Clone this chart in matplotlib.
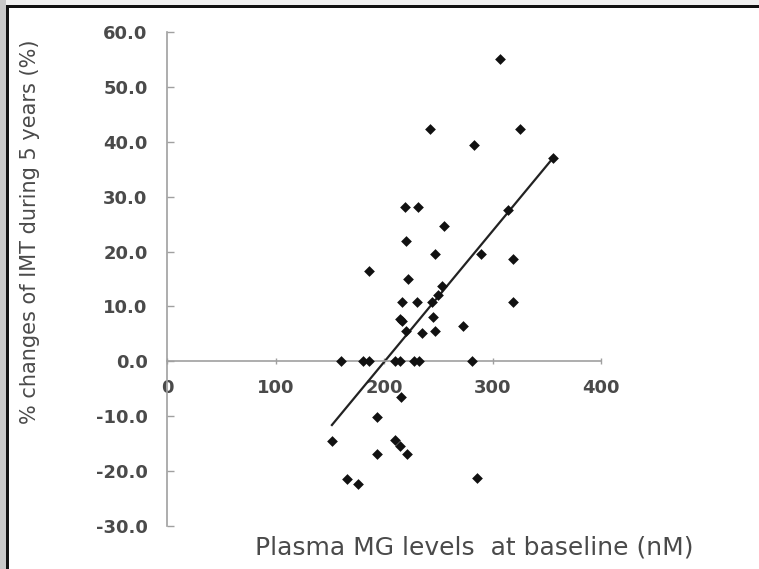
import matplotlib
matplotlib.use("Agg")
import matplotlib.pyplot as plt
from matplotlib.patches import Rectangle

# baseline plasma MG (nM) vs % change of IMT over 5 years
mg_nm = [307, 325, 283, 356, 242, 314, 289, 319, 319, 273, 281, 286,
         219, 231, 255, 220, 247, 186, 222, 253, 217, 230, 244, 250,
         215, 217, 245, 220, 235, 247,
         160, 181, 186, 210, 215, 228, 232,
         194, 152, 210, 215, 221, 194, 166, 176, 216]
imt_change = [55.1, 42.4, 39.5, 37.1, 42.4, 27.5, 19.6, 18.7, 10.9, 6.4, 0.0, -21.3,
              28.2, 28.2, 24.7, 22.0, 19.5, 16.5, 15.0, 13.7, 10.9, 10.9, 10.9, 12.0,
              7.8, 7.3, 8.0, 5.5, 5.1, 5.5,
              0.0, 0.0, 0.0, 0.0, 0.0, 0.0, 0.0,
              -10.2, -14.5, -14.4, -15.5, -16.9, -16.9, -21.4, -22.4, -6.5]

# regression line end points
fit_x = [152, 356]
fit_y = [-11.6, 37.1]

x_ticks = [0, 100, 200, 300, 400]
y_ticks = [-30, -20, -10, 0, 10, 20, 30, 40, 50, 60]

AXC = "#a0a0a0"
TXT = "#4a4a4a"

fig = plt.figure(figsize=(7.59, 5.69), dpi=100)
fig.patch.set_facecolor("white")

# frame: grey strips + black edge on top and left
fig.patches.append(Rectangle((0, 1 - 5 / 569), 1, 5 / 569, transform=fig.transFigure,
                             fc="#f0f0f0", ec="none", zorder=0))
fig.patches.append(Rectangle((0, 0), 6 / 759, 1, transform=fig.transFigure,
                             fc="#c8c8c8", ec="none", zorder=0))
fig.patches.append(Rectangle((6 / 759, 1 - 7.5 / 569), 1, 2.5 / 569, transform=fig.transFigure,
                             fc="#111111", ec="none", zorder=1))
fig.patches.append(Rectangle((6 / 759, 0), 2.5 / 759, 1 - 5 / 569, transform=fig.transFigure,
                             fc="#111111", ec="none", zorder=1))

ax = fig.add_axes([167 / 759, 43 / 569, 434 / 759, 494 / 569])
ax.set_facecolor("none")
ax.set_xlim(0, 400)
ax.set_ylim(-30, 60)

ax.scatter(mg_nm, imt_change, marker="D", s=30, color="#111111", zorder=3, linewidths=0)
ax.plot(fit_x, fit_y, color="#222222", lw=1.6, zorder=2)

for s in ("top", "right"):
    ax.spines[s].set_visible(False)
ax.spines["left"].set_position(("data", 0))
ax.spines["bottom"].set_position(("data", 0))
for s in ("left", "bottom"):
    ax.spines[s].set_color(AXC)
    ax.spines[s].set_linewidth(1.2)

ax.set_xticks(x_ticks)
ax.set_xticklabels([str(v) for v in x_ticks])
ax.set_yticks(y_ticks)
ax.set_yticklabels([f"{v:.1f}" for v in y_ticks])
ax.tick_params(axis="y", direction="in", length=5, width=1, color=AXC, pad=14,
               labelsize=13, labelcolor=TXT)
ax.tick_params(axis="x", direction="inout", length=4, width=1, color=AXC, pad=11,
               labelsize=13, labelcolor=TXT)
for lab in ax.get_xticklabels() + ax.get_yticklabels():
    lab.set_fontweight("bold")

fig.text(20 / 759, 1 - 232 / 569, "% changes of IMT during 5 years (%)", rotation=90,
         ha="left", va="center", fontsize=15, color=TXT)
fig.text(474 / 759, 1 - 548 / 569, "Plasma MG levels  at baseline (nM)",
         ha="center", va="center", fontsize=18, color=TXT)

fig.savefig("out.png", dpi=100)
